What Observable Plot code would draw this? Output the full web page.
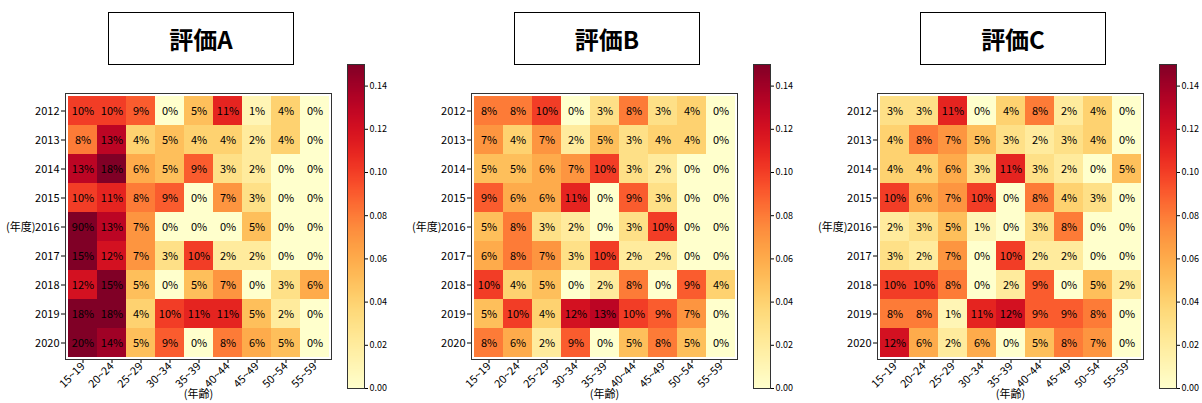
<!DOCTYPE html>
<html>
<head>
<meta charset="utf-8">
<script src="https://cdn.jsdelivr.net/npm/d3@7"></script>
<script src="https://cdn.jsdelivr.net/npm/@observablehq/plot@0.6"></script>
<style>
  html, body { margin: 0; padding: 0; background: #fff; }
  #root { position: relative; width: 1202px; height: 403px; overflow: hidden; font-family: "Noto Sans CJK JP", "DejaVu Sans", sans-serif; }
  .abs { position: absolute; }
  .abs svg { max-width: none !important; display: block; }
  .title { position: absolute; box-sizing: border-box; border: 1px solid #000; background: #fff;
           display: flex; align-items: center; justify-content: center;
           font-weight: bold; font-size: 24px; color: #000; }
</style>
</head>
<body>
<div id="root"></div>
<script>
// ---- data ----
const ages = ["15~19", "20~24", "25~29", "30~34", "35~39", "40~44", "45~49", "50~54", "55~59"];
const years = ["2012", "2013", "2014", "2015", "2016", "2017", "2018", "2019", "2020"];
const titles = ["評価A", "評価B", "評価C"];
const colorTicks = [0, 0.02, 0.04, 0.06, 0.08, 0.10, 0.12, 0.14];

// percentages (row = year, column = age group)
const valuesA = [
  [10, 10, 9, 0, 5, 11, 1, 4, 0],
  [8, 13, 4, 5, 4, 4, 2, 4, 0],
  [13, 18, 6, 5, 9, 3, 2, 0, 0],
  [10, 11, 8, 9, 0, 7, 3, 0, 0],
  [90, 13, 7, 0, 0, 0, 5, 0, 0],
  [15, 12, 7, 3, 10, 2, 2, 0, 0],
  [12, 15, 5, 0, 5, 7, 0, 3, 6],
  [18, 18, 4, 10, 11, 11, 5, 2, 0],
  [20, 14, 5, 9, 0, 8, 6, 5, 0]
];
const valuesB = [
  [8, 8, 10, 0, 3, 8, 3, 4, 0],
  [7, 4, 7, 2, 5, 3, 4, 4, 0],
  [5, 5, 6, 7, 10, 3, 2, 0, 0],
  [9, 6, 6, 11, 0, 9, 3, 0, 0],
  [5, 8, 3, 2, 0, 3, 10, 0, 0],
  [6, 8, 7, 3, 10, 2, 2, 0, 0],
  [10, 4, 5, 0, 2, 8, 0, 9, 4],
  [5, 10, 4, 12, 13, 10, 9, 7, 0],
  [8, 6, 2, 9, 0, 5, 8, 5, 0]
];
const valuesC = [
  [3, 3, 11, 0, 4, 8, 2, 4, 0],
  [4, 8, 7, 5, 3, 2, 3, 4, 0],
  [4, 4, 6, 3, 11, 3, 2, 0, 5],
  [10, 6, 7, 10, 0, 8, 4, 3, 0],
  [2, 3, 5, 1, 0, 3, 8, 0, 0],
  [3, 2, 7, 0, 10, 2, 2, 0, 0],
  [10, 10, 8, 0, 2, 9, 0, 5, 2],
  [8, 8, 1, 11, 12, 9, 9, 8, 0],
  [12, 6, 2, 6, 0, 5, 8, 7, 0]
];

// ---- layout ----
const FONT = '"Noto Sans CJK JP", "DejaVu Sans", sans-serif';
const root = document.getElementById("root");
const frameLefts = [65, 471, 877];
const barLefts = [347, 753, 1159];
const FRAME_TOP = 93, FRAME_SIZE = 266, H = 403;
const colorScale = { type: "linear", scheme: "YlOrRd", domain: [0, 0.15], clamp: true };

function place(el, left, top, width) {
  const wrap = document.createElement("div");
  wrap.className = "abs";
  wrap.style.left = left + "px";
  wrap.style.top = top + "px";
  wrap.style.width = width + "px";
  wrap.appendChild(el);
  root.appendChild(wrap);
}

[valuesA, valuesB, valuesC].forEach((vals, k) => {
  const table = [];
  years.forEach((y, i) => ages.forEach((a, j) => table.push({ year: y, age: a, v: vals[i][j] })));

  const fl = frameLefts[k];
  const hw = 65 + FRAME_SIZE + 6;
  const heat = Plot.plot({
    width: hw,
    height: H,
    marginLeft: 65,
    marginRight: 6,
    marginTop: FRAME_TOP,
    marginBottom: H - FRAME_TOP - FRAME_SIZE,
    style: { fontFamily: FONT, fontSize: "11px", color: "#000", background: "transparent", overflow: "visible" },
    x: { domain: ages, padding: 0, label: null, tickRotate: -45, tickSize: 4, tickPadding: 1 },
    y: { domain: years, padding: 0, label: null, tickSize: 4, tickPadding: 2 },
    color: colorScale,
    marks: [
      Plot.cell(table, { x: "age", y: "year", fill: d => d.v / 100, inset: 0 }),
      Plot.text(table, { x: "age", y: "year", text: d => d.v + "%", fill: "#000", fontSize: 11 }),
      Plot.frame({ stroke: "#333", strokeWidth: 1 }),
      Plot.text(["(年度)"], { y: ["2016"], frameAnchor: "left", dx: -30, textAnchor: "end", fontSize: 11, fill: "#000" }),
      Plot.text(["(年齢)"], { frameAnchor: "bottom", dy: 38, fontSize: 11, fill: "#000" })
    ]
  });
  place(heat, fl - 65, 0, hw);

  // colorbar
  const n = 300;
  const step = 0.15 / n;
  const stops = d3.range(0, n).map(i => i * step);
  const bw = 17 + 36;
  const bar = Plot.plot({
    width: bw,
    height: H,
    marginLeft: 0,
    marginRight: 36,
    marginTop: 64,
    marginBottom: H - 388,
    style: { fontFamily: FONT, fontSize: "9px", color: "#000", background: "transparent", overflow: "visible" },
    x: { domain: [0, 1], axis: null },
    y: { domain: [0, 0.15], axis: "right", ticks: colorTicks, tickFormat: d3.format(".2f"), tickSize: 3, tickPadding: 2, label: null },
    color: colorScale,
    marks: [
      Plot.rect(stops, { x1: 0, x2: 1, y1: d => d, y2: d => Math.min(0.15, d + step * 2), fill: d => d + step / 2, shapeRendering: "crispEdges" }),
      Plot.frame({ stroke: "#333", strokeWidth: 1 })
    ]
  });
  place(bar, barLefts[k], 0, bw);

  // title box
  const t = document.createElement("div");
  t.className = "title";
  t.style.left = (fl + 43) + "px";
  t.style.top = "12px";
  t.style.width = "186px";
  t.style.height = "53px";
  t.textContent = titles[k];
  root.appendChild(t);
});
</script>
</body>
</html>
